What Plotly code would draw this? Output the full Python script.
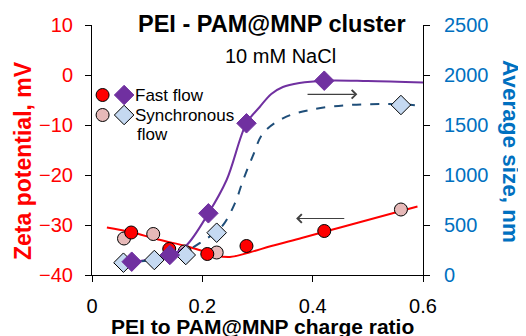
import plotly.graph_objects as go

# ---------------- data ----------------
# Zeta potential (mV), left axis
fast_zeta_x = [0.071, 0.140, 0.209, 0.280, 0.421]
fast_zeta_y = [-31.5, -34.8, -35.8, -34.2, -31.2]
sync_zeta_x = [0.058, 0.111, 0.168, 0.226, 0.560]
sync_zeta_y = [-32.7, -31.8, -35.3, -35.5, -26.9]

# Average size (nm), right axis
fast_size_x = [0.072, 0.141, 0.211, 0.280, 0.421]
fast_size_y = [133, 200, 617, 1517, 1943]
sync_size_x = [0.057, 0.113, 0.170, 0.226, 0.560]
sync_size_y = [123, 150, 200, 423, 1700]

# fitted guide curves
zeta_fit_x = [0.027, 0.07, 0.12, 0.17, 0.20, 0.225, 0.25, 0.285, 0.325, 0.38, 0.45, 0.52, 0.59]
zeta_fit_y = [-30.5, -31.4, -32.9, -34.2, -35.2, -36.1, -36.4, -35.5, -34.2, -32.6, -30.5, -28.4, -26.3]

fast_fit_x = [0.062, 0.10, 0.14, 0.17, 0.211, 0.244, 0.28, 0.304, 0.325, 0.346, 0.376, 0.42, 0.50, 0.60]
fast_fit_y = [125, 150, 195, 290, 617, 950, 1517, 1680, 1810, 1880, 1920, 1943, 1940, 1925]

sync_fit_x = [0.057, 0.108, 0.156, 0.199, 0.235, 0.259, 0.274, 0.291, 0.31, 0.346, 0.394, 0.466, 0.557, 0.60]
sync_fit_y = [123, 150, 200, 333, 483, 717, 950, 1183, 1417, 1567, 1650, 1700, 1707, 1690]

x_ticks = [0, 0.2, 0.4, 0.6]
x_tick_labels = ["0", "0.2", "0.4", "0.6"]
zeta_ticks = [10, 0, -10, -20, -30, -40]
size_ticks = [0, 500, 1000, 1500, 2000, 2500]

# ---------------- styles ----------------
FONT = "Liberation Sans, Arial, sans-serif"
RED = "#FF0000"
PINK = "#E6B9B8"
PURPLE = "#7030A0"
LIGHTBLUE = "#C5D9F1"
DARKBLUE = "#1F4E79"
BLUE = "#0070C0"

fig = go.Figure()

# left-axis traces
fig.add_trace(go.Scatter(x=zeta_fit_x, y=zeta_fit_y, mode="lines",
                         line=dict(color=RED, width=2, shape="spline"),
                         showlegend=False, hoverinfo="skip"))
fig.add_trace(go.Scatter(x=sync_zeta_x, y=sync_zeta_y, mode="markers",
                         marker=dict(symbol="circle", size=13, color=PINK,
                                     line=dict(color="black", width=1)),
                         showlegend=False))
fig.add_trace(go.Scatter(x=fast_zeta_x, y=fast_zeta_y, mode="markers",
                         marker=dict(symbol="circle", size=13, color=RED,
                                     line=dict(color="black", width=1)),
                         showlegend=False))

# right-axis traces
fig.add_trace(go.Scatter(x=fast_fit_x, y=fast_fit_y, mode="lines", yaxis="y2",
                         line=dict(color=PURPLE, width=2, shape="spline"),
                         showlegend=False, hoverinfo="skip"))
fig.add_trace(go.Scatter(x=sync_fit_x, y=sync_fit_y, mode="lines", yaxis="y2",
                         line=dict(color=DARKBLUE, width=2, dash="dash", shape="spline"),
                         showlegend=False, hoverinfo="skip"))
fig.add_trace(go.Scatter(x=sync_size_x, y=sync_size_y, mode="markers", yaxis="y2",
                         marker=dict(symbol="diamond", size=15, color=LIGHTBLUE,
                                     line=dict(color="black", width=1)),
                         showlegend=False))
fig.add_trace(go.Scatter(x=fast_size_x, y=fast_size_y, mode="markers", yaxis="y2",
                         marker=dict(symbol="diamond", size=15, color=PURPLE,
                                     line=dict(color=PURPLE, width=1)),
                         showlegend=False))

# custom legend on an overlay axis (fractions of the plot area)
leg_col_circle = 0.032
leg_col_diamond = 0.097
leg_row1 = 0.72
leg_row2 = 0.64
fig.add_trace(go.Scatter(x=[leg_col_circle, leg_col_circle], y=[leg_row1, leg_row2],
                         xaxis="x3", yaxis="y3", mode="markers",
                         marker=dict(symbol="circle", size=13, color=[RED, PINK],
                                     line=dict(color="black", width=1)),
                         showlegend=False, hoverinfo="skip"))
fig.add_trace(go.Scatter(x=[leg_col_diamond, leg_col_diamond], y=[leg_row1, leg_row2],
                         xaxis="x3", yaxis="y3", mode="markers",
                         marker=dict(symbol="diamond", size=15, color=[PURPLE, LIGHTBLUE],
                                     line=dict(color=[PURPLE, "black"], width=1)),
                         showlegend=False, hoverinfo="skip"))


def txt(text, x, y, size, color="black", xanchor="center", angle=0):
    return dict(text=text, xref="paper", yref="paper", x=x, y=y,
                xanchor=xanchor, yanchor="middle", textangle=angle,
                showarrow=False, font=dict(size=size, color=color, family=FONT))


annotations = [
    txt("<b>PEI - PAM@MNP cluster</b>", 0.545, 1.004, 23.5),
    txt("10 mM NaCl", 0.568, 0.876, 20),
    txt("Fast flow", 0.124, 0.72, 17, xanchor="left"),
    txt("Synchronous", 0.124, 0.64, 17, xanchor="left"),
    txt("flow", 0.131, 0.564, 17, xanchor="left"),
    txt("<b>Zeta potential, mV</b>", -0.2085, 0.46, 23, color=RED, angle=-90),
    txt("<b>Average size, nm</b>", 1.266, 0.496, 22.5, color=BLUE, angle=90),
    txt("<b>PEI to PAM@MNP charge ratio</b>", 0.514, -0.207, 21),
    # arrows pointing to the relevant axis
    dict(x=0.37, y=-28.7, ax=0.46, ay=-28.7, xref="x", yref="y", axref="x", ayref="y",
         text="", showarrow=True, arrowhead=4, arrowsize=1.4, arrowwidth=1.2,
         arrowcolor="#404040"),
    dict(x=0.481, y=1807, ax=0.388, ay=1807, xref="x", yref="y2", axref="x", ayref="y2",
         text="", showarrow=True, arrowhead=4, arrowsize=1.4, arrowwidth=1.2,
         arrowcolor="#404040"),
]

# the page adds an 8 px body margin, so the figure is 8 px smaller and shifted
fig.update_layout(
    width=518, height=328,
    margin=dict(l=84, r=103, t=17, b=61, autoexpand=False),
    paper_bgcolor="white", plot_bgcolor="white",
    font=dict(family=FONT, color="black"),
    showlegend=False,
    annotations=annotations,
    xaxis=dict(range=[0, 0.6], tickvals=x_ticks, ticktext=x_tick_labels,
               ticks="outside", ticklen=6, tickcolor="black", tickwidth=1,
               showline=True, linecolor="black", linewidth=1, automargin=False,
               showgrid=False, zeroline=False, ticklabelstandoff=7,
               tickfont=dict(size=20, color="black", family=FONT)),
    yaxis=dict(range=[-40, 10], tickvals=zeta_ticks,
               ticks="outside", ticklen=6, tickcolor="black", tickwidth=1,
               showline=True, linecolor="black", linewidth=1, automargin=False,
               showgrid=False, zeroline=False, ticklabelstandoff=8,
               tickfont=dict(size=20, color=RED, family=FONT)),
    yaxis2=dict(range=[0, 2500], tickvals=size_ticks, overlaying="y", side="right",
                ticks="outside", ticklen=6, tickcolor="black", tickwidth=1,
                showline=True, linecolor="black", linewidth=1, automargin=False,
                showgrid=False, zeroline=False, ticklabelstandoff=10,
                tickfont=dict(size=20, color=BLUE, family=FONT)),
    xaxis3=dict(range=[0, 1], overlaying="x", visible=False, anchor="y3", automargin=False),
    yaxis3=dict(range=[0, 1], overlaying="y", visible=False, anchor="x3", automargin=False),
)

fig.write_html("out.html")
